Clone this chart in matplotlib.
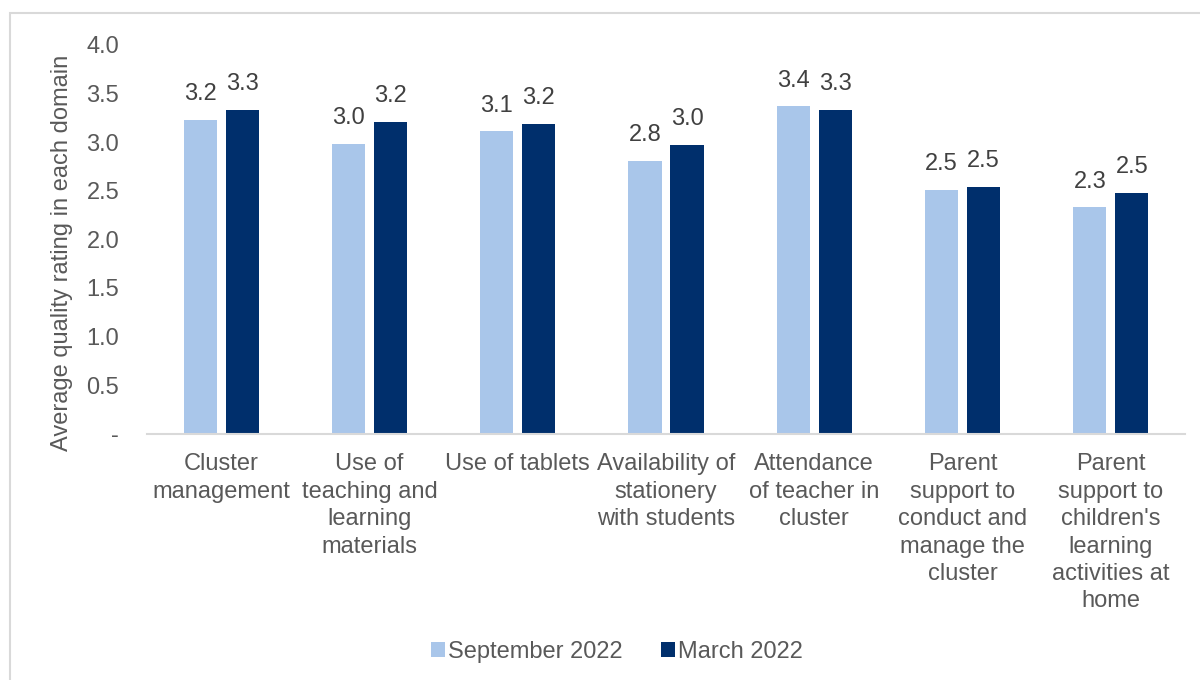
import numpy as np
import matplotlib.pyplot as plt
from matplotlib.patches import Rectangle

plt.rcParams['font.family'] = ['Liberation Sans', 'DejaVu Sans']

# Domains and average ratings per survey round
categories = [
    "Cluster\nmanagement",
    "Use of\nteaching and\nlearning\nmaterials",
    "Use of tablets",
    "Availability of\nstationery\nwith students",
    "Attendance\nof teacher in\ncluster",
    "Parent\nsupport to\nconduct and\nmanage the\ncluster",
    "Parent\nsupport to\nchildren's\nlearning\nactivities at\nhome",
]
sept_2022 = [3.23, 2.98, 3.11, 2.81, 3.37, 2.51, 2.33]
march_2022 = [3.33, 3.21, 3.19, 2.97, 3.33, 2.54, 2.48]
series_names = ["September 2022", "March 2022"]
series_colors = ["#a9c6ea", "#002f6c"]

FS = 17

fig = plt.figure(figsize=(12, 6.8), dpi=100)
ax = fig.add_axes([0.1225, 0.362, 0.8650, 0.572])

# light frame around the whole chart
fig.patches.append(Rectangle((10 / 1200, -0.05), 1.2, 1.05 - 13.5 / 680,
                             transform=fig.transFigure, fill=False,
                             edgecolor="#d9d9d9", linewidth=1.5))

x = np.arange(len(categories))
width = 0.223
offset = (width + 0.06) / 2

for vals, name, color, dx in zip([sept_2022, march_2022], series_names,
                                 series_colors, [-offset, offset]):
    bars = ax.bar(x + dx, vals, width, color=color, label=name)
    for rect, v in zip(bars, vals):
        ax.annotate(f"{v:.1f}", (rect.get_x() + rect.get_width() / 2, v),
                    xytext=(0, 10.5), textcoords="offset points",
                    ha="center", va="bottom", fontsize=FS, color="#404040")

ax.set_xlim(-0.5, len(categories) - 0.5)
ax.set_ylim(0, 4.0)
ax.set_yticks(np.arange(0, 4.01, 0.5))
ax.set_yticklabels(["-"] + [f"{t:.1f}" for t in np.arange(0.5, 4.01, 0.5)])
ax.set_xticks(x)
ax.set_xticklabels(categories, linespacing=1.32)

ax.tick_params(axis="y", length=0, pad=20, labelsize=FS, labelcolor="#595959")
ax.tick_params(axis="x", length=0, pad=14, labelsize=FS, labelcolor="#595959")
ax.set_ylabel("Average quality rating in each domain", fontsize=FS,
              color="#595959")
ax.yaxis.set_label_coords(-0.071, 0.466)

for side in ["top", "right", "left"]:
    ax.spines[side].set_visible(False)
ax.spines["bottom"].set_color("#d9d9d9")
ax.spines["bottom"].set_linewidth(1.5)

ax.legend(loc="center", bbox_to_anchor=(0.514, 1 - 652 / 680), bbox_transform=fig.transFigure,
          ncol=2, frameon=False, fontsize=FS, handlelength=0.62, handleheight=0.62,
          handletextpad=0.12, columnspacing=1.6, labelcolor="#595959")

fig.savefig("out.png", dpi=100)
